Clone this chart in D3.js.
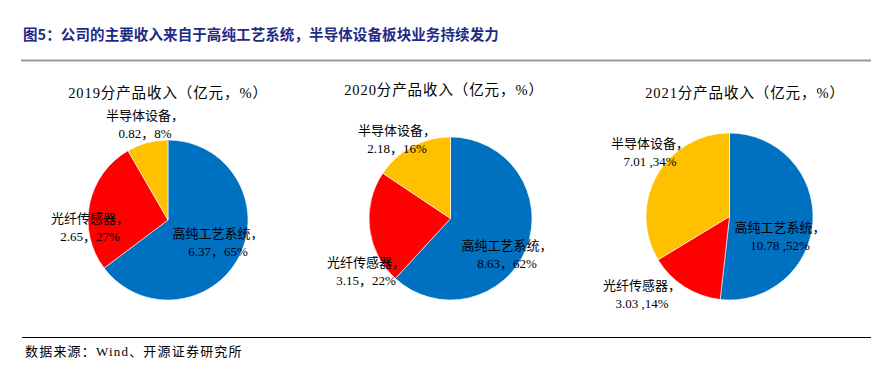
<!DOCTYPE html>
<html>
<head>
<meta charset="utf-8">
<script src="https://cdn.jsdelivr.net/npm/d3@7"></script>
<style>
	body { margin: 0; background: #fff; }
	svg { display: block; }
</style>
</head>
<body>
<svg id="chart" width="871" height="370"></svg>
<script>
const categories = ['高纯工艺系统', '光纤传感器', '半导体设备']
const years = ['2019', '2020', '2021']
const revenue2019 = [6.37, 2.65, 0.82]
const revenue2020 = [8.63, 3.15, 2.18]
const revenue2021 = [10.78, 3.03, 7.01]
const share2019 = ['65%', '27%', '8%']
const share2020 = ['62%', '22%', '16%']
const share2021 = ['52%', '14%', '34%']
const separators = ['，', '，', ' ,']

const colors = ['#0070C0', '#FF0000', '#FFC000']
const serif = "'Liberation Serif', 'Noto Sans CJK SC', serif"

// pie layout, one per year
const layout = [
	{ cx: 168, cy: 220, r: 80, titleX: 168, titleY: 98,
		labels: [[218, 233], [90, 218], [145, 115]] },
	{ cx: 450.5, cy: 218.5, r: 81.5, titleX: 444, titleY: 95,
		labels: [[507, 245], [366, 262], [397, 130]] },
	{ cx: 729.5, cy: 216.5, r: 83.5, titleX: 745, titleY: 98,
		labels: [[780, 227], [642, 285], [650, 143]] }
]

const svg = d3.select('#chart')

svg.append('text')
	.attr('x', 23)
	.attr('y', 40)
	.attr('fill', '#1f2a86')
	.attr('font-family', "'Noto Sans CJK SC', sans-serif")
	.attr('font-weight', 'bold')
	.attr('font-size', 14.5)
	.attr('letter-spacing', 0.1)
	.text('图5：公司的主要收入来自于高纯工艺系统，半导体设备板块业务持续发力')

svg.append('line')
	.attr('x1', 21).attr('x2', 871)
	.attr('y1', 60.5).attr('y2', 60.5)
	.attr('stroke', '#9a9a9a')
	.attr('stroke-width', 2)

svg.append('line')
	.attr('x1', 22).attr('x2', 871)
	.attr('y1', 337.5).attr('y2', 337.5)
	.attr('stroke', '#000')
	.attr('stroke-width', 1)

svg.append('text')
	.attr('x', 25)
	.attr('y', 356)
	.attr('fill', '#000')
	.attr('font-family', serif)
	.attr('font-size', 13)
	.attr('letter-spacing', 1.2)
	.text('数据来源：Wind、开源证券研究所')

const pie = d3.pie().sort(null).value(d => d)
const allRevenue = [revenue2019, revenue2020, revenue2021]
const allShare = [share2019, share2020, share2021]

years.forEach((year, i) => {
	const l = layout[i]
	const arc = d3.arc().innerRadius(0).outerRadius(l.r)
	const g = svg.append('g').attr('transform', `translate(${l.cx},${l.cy})`)

	g.selectAll('path')
		.data(pie(allRevenue[i]))
		.enter()
		.append('path')
		.attr('d', arc)
		.attr('fill', (d, j) => colors[j])
		.attr('stroke', '#fff')
		.attr('stroke-width', 0.6)

	svg.append('text')
		.attr('x', l.titleX)
		.attr('y', l.titleY)
		.attr('text-anchor', 'middle')
		.attr('font-family', serif)
		.attr('font-size', 14.5)
		.attr('letter-spacing', 0.9)
		.attr('fill', '#000')
		.text(`${year}分产品收入（亿元，%）`)

	categories.forEach((cat, j) => {
		const [x, y] = l.labels[j]
		const t = svg.append('text')
			.attr('text-anchor', 'middle')
			.attr('font-family', serif)
			.attr('font-size', 13)
			.attr('fill', '#000')
		t.append('tspan')
			.attr('x', x).attr('y', y + 4.5)
			.text(cat + '，')
		t.append('tspan')
			.attr('x', x).attr('y', y + 22.5)
			.text(allRevenue[i][j].toFixed(2) + separators[i] + allShare[i][j])
	})
})
</script>
</body>
</html>
